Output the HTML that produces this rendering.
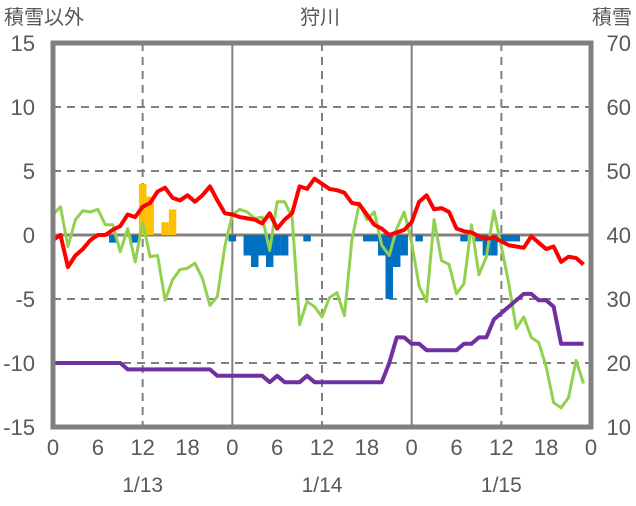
<!DOCTYPE html>
<html><head><meta charset="utf-8"><style>
body{margin:0;background:#fff;}
svg text{font-family:"Liberation Sans","Noto Sans CJK JP",sans-serif;fill:#595959;}
</style></head><body>
<svg id="chart" width="636" height="501" xmlns="http://www.w3.org/2000/svg">
<g id="grid"></g>
<g id="bars"></g>
<g id="lines"></g>
<g id="frame"></g>
<g id="labels"></g>
</svg>
<script>
const leftTicks=[15,10,5,0,-5,-10,-15];
const rightTicks=[70,60,50,40,30,20,10];
const hourLabels=[0,6,12,18,0,6,12,18,0,6,12,18,0];
const dateLabels=["1/13","1/14","1/15"];
const tempRed=[-0.4,0,-2.5,-1.6,-1.1,-0.4,0,0,0.4,0.7,1.6,1.4,2.2,2.5,3.4,3.7,2.9,2.7,3.1,2.6,3.1,3.8,2.7,1.7,1.6,1.4,1.3,1.2,0.9,1.7,0.5,1.2,1.7,3.8,3.6,4.4,4.0,3.6,3.5,3.3,2.5,2.4,1.6,0.8,0.5,0,0.2,0.4,1.0,2.6,3.1,2.0,2.1,1.8,0.5,0.3,0.2,-0.1,-0.3,-0.2,-0.5,-0.8,-0.9,-1.0,-0.1,-0.6,-1.1,-0.9,-2.1,-1.7,-1.8,-2.3];
const greenLine=[1.6,2.2,-0.9,1.2,1.9,1.8,2.0,0.8,0.8,-1.3,0.5,-2.1,1.0,-1.7,-1.6,-5.1,-3.5,-2.7,-2.6,-2.2,-3.4,-5.5,-4.8,-0.9,1.6,2.0,1.8,1.3,1.4,-1.2,2.6,2.6,1.4,-7.0,-5.2,-5.6,-6.4,-4.9,-4.5,-6.3,-0.4,2.5,1.2,1.8,-0.8,-1.6,0.5,1.8,-0.6,-4.0,-5.2,1.2,-2.0,-2.3,-4.6,-3.8,0.8,-3.1,-1.7,1.9,-0.9,-3.8,-7.3,-6.4,-8.0,-8.4,-10.3,-13.1,-13.5,-12.7,-9.8,-11.6];
const snowDepth=[20,20,20,20,20,20,20,20,20,20,19,19,19,19,19,19,19,19,19,19,19,19,18,18,18,18,18,18,18,17,18,17,17,17,18,17,17,17,17,17,17,17,17,17,17,20,24,24,23,23,22,22,22,22,22,23,23,24,24,26.8,27.8,28.8,29.8,30.8,30.8,29.8,29.8,28.8,23,23,23,23];
const barHours=[8,11,12,13,15,16,24,26,27,28,29,30,31,34,42,43,44,45,46,47,49,55,57,58,59,60,61,62];
const barValues=[-0.6,-0.6,4,3,1,2,-0.5,-1.6,-2.5,-1.6,-2.5,-1.6,-1.6,-0.5,-0.5,-0.5,-1.6,-5.0,-2.5,-1.6,-0.5,-0.5,-0.5,-1.6,-1.6,-0.5,-0.5,-0.5];

const L=53,R=591,T=43,B=427;
const NS="http://www.w3.org/2000/svg";
function x(h){return L+h*(R-L)/72;}
function y(v){return T+(15-v)*(B-T)/30;}
function yr(v){return T+(70-v)*(B-T)/60;}
function mk(tag,attrs,parent){const e=document.createElementNS(NS,tag);for(const k in attrs)e.setAttribute(k,attrs[k]);document.getElementById(parent).appendChild(e);return e;}
[10,5,-5,-10].forEach(v=>{const g=mk('line',{x1:L,x2:R,y1:y(v),y2:y(v),stroke:'#808080','stroke-width':2,'stroke-dasharray':'8,6'},'grid');

});
[12,36,60].forEach(h=>{const g=mk('line',{x1:x(h),x2:x(h),y1:T,y2:B,stroke:'#808080','stroke-width':2,'stroke-dasharray':'8,6'},'grid');

});
[24,48].forEach(h=>{const g=mk('line',{x1:x(h),x2:x(h),y1:T,y2:B,stroke:'#808080','stroke-width':2},'grid');

});
const bw=(R-L)/72;
barHours.forEach((h,i)=>{const v=barValues[i];const b=mk('rect',{x:x(h)-bw/2,y:Math.min(y(v),y(0)),width:bw,height:Math.abs(y(v)-y(0)),fill:v>0?'#FFC000':'#0070C0'},'bars');

});
const z=mk('line',{x1:L,x2:R,y1:y(0),y2:y(0),stroke:'#808080','stroke-width':3},'grid');


function line(arr,fy,color,w,name){const p=mk('polyline',{points:arr.map((v,i)=>x(i)+','+fy(v)).join(' '),fill:'none',stroke:color,'stroke-width':w,'stroke-linejoin':'round'},'lines');

}
line(greenLine,y,'#92D050',3,'green-series-line');
line(tempRed,y,'#FF0000',4,'red-series-line');
line(snowDepth,yr,'#7030A0',4,'snow-depth-line');
const f=mk('rect',{x:L,y:T,width:R-L,height:B-T,fill:'none',stroke:'#808080','stroke-width':5},'frame');


function txt(s,xx,yy,anchor,size,name){const t=mk('text',{x:xx,y:yy,'text-anchor':anchor,'font-size':size},'labels');t.textContent=s;

}
leftTicks.forEach(v=>txt(String(v),35,y(v)+8,'end',22,'left-tick-label'));
rightTicks.forEach(v=>txt(String(v),631,yr(v)+8,'end',22,'right-tick-label'));
hourLabels.forEach((h,i)=>txt(String(h),x(i*6),455,'middle',22,'x-tick-label'));
dateLabels.forEach((d,i)=>txt(d,x(12+24*i),492,'middle',21,'date-label'));
txt('積雪以外',4,24,'start',20,'left-axis-title');
txt('狩川',320,24,'middle',20,'chart-title');
txt('積雪',632,24,'end',20,'right-axis-title');
</script>
</body></html>
